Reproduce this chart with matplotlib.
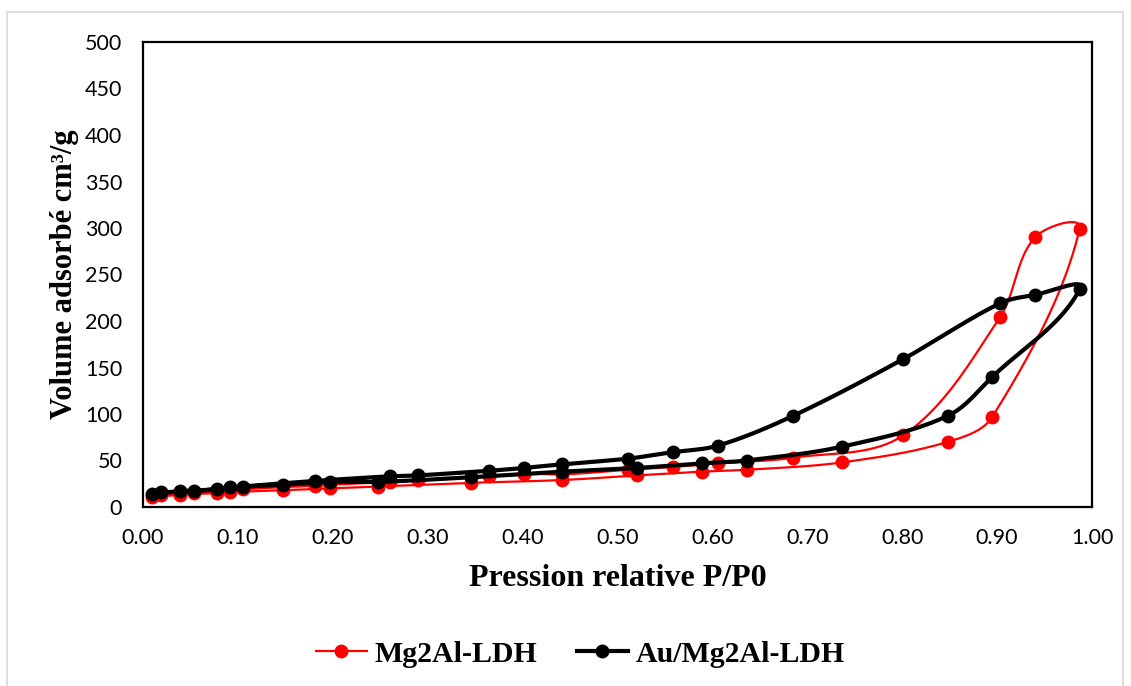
import numpy as np
import matplotlib
matplotlib.use("Agg")
import matplotlib.pyplot as plt
from matplotlib.patches import Rectangle
from matplotlib.lines import Line2D

# ---- data (P/P0, volume adsorbed cm3/g) ----
ads_x = [0.009, 0.039, 0.078, 0.092, 0.147, 0.197, 0.248, 0.346, 0.442, 0.521, 0.589, 0.636, 0.737, 0.848, 0.895, 0.987]
des_x = [0.940, 0.903, 0.801, 0.685, 0.606, 0.558, 0.511, 0.442, 0.402, 0.365, 0.290, 0.260, 0.181, 0.105, 0.054, 0.019]

mg_ads = [11, 13, 15, 16, 18, 20, 22, 26, 29, 34, 38, 40, 48, 70, 97, 299]
mg_des = [290, 204, 77, 53, 47, 43, 40, 35, 36, 33, 29, 27, 23, 19, 15, 13]

au_ads = [14, 17, 19, 21, 24, 27, 27, 32, 38, 42, 47, 50, 65, 98, 140, 234]
au_des = [228, 219, 159, 98, 66, 59, 52, 46, 42, 39, 34, 33, 28, 22, 17, 16]

labels = ["Mg2Al-LDH", "Au/Mg2Al-LDH"]
colors = ["#ff0000", "#000000"]

x_ticks = [0.0, 0.1, 0.2, 0.3, 0.4, 0.5, 0.6, 0.7, 0.8, 0.9, 1.0]
y_ticks = [0, 50, 100, 150, 200, 250, 300, 350, 400, 450, 500]

XMAX, YMAX = 1.0, 500.0
AX_W_PX, AX_H_PX = 949.0, 465.0


def smooth(xs, ys, n=40):
    """Excel-like smoothed line: cubic Bezier, tangent direction from neighbours,
    handle length proportional to the segment length (computed in pixel space)."""
    sx, sy = AX_W_PX / XMAX, AX_H_PX / YMAX
    P = np.column_stack([np.asarray(xs) * sx, np.asarray(ys) * sy]).astype(float)
    m = len(P)
    tang = []
    for i in range(m):
        a = P[i - 1] if i > 0 else P[i]
        b = P[i + 1] if i < m - 1 else P[i]
        d = b - a
        nrm = np.hypot(*d)
        tang.append(d / nrm if nrm > 0 else d)
    out = [P[0]]
    t = np.linspace(0, 1, n)[1:, None]
    for i in range(m - 1):
        p1, p2 = P[i], P[i + 1]
        L = np.hypot(*(p2 - p1))
        c1 = p1 + tang[i] * L / 3.0
        c2 = p2 - tang[i + 1] * L / 3.0
        seg = ((1 - t) ** 3) * p1 + 3 * ((1 - t) ** 2) * t * c1 + 3 * (1 - t) * t ** 2 * c2 + t ** 3 * p2
        out.extend(seg)
    out = np.array(out)
    return out[:, 0] / sx, out[:, 1] / sy


fig = plt.figure(figsize=(11.31, 6.86), dpi=100)
fig.patches.append(Rectangle((7 / 1131, -0.01), 1116 / 1131, 1 - 12 / 686 + 0.01,
                             transform=fig.transFigure, fill=False,
                             edgecolor="#d9d9d9", linewidth=1.2))

ax = fig.add_axes([143 / 1131, 1 - 507 / 686, (1092 - 143) / 1131, (507 - 42) / 686])

series = [(mg_ads, mg_des, 1.6, 9.0, 2), (au_ads, au_des, 3.0, 9.0, 3)]
for (ya, yd, lw, ms, z), lab, c in zip(series, labels, colors):
    xs = ads_x + des_x
    ys = ya + yd
    sx, sy = smooth(xs, ys)
    ax.plot(sx, sy, color=c, lw=lw, zorder=z, solid_capstyle="round")
    ax.plot(xs, ys, linestyle="none", marker="o", ms=ms, color=c, zorder=z + 0.5)

ax.set_xlim(0, XMAX)
ax.set_ylim(0, YMAX)
ax.set_xticks(x_ticks)
ax.set_xticklabels([f"{v:.2f}" for v in x_ticks])
ax.set_yticks(y_ticks)
ax.set_yticklabels([str(v) for v in y_ticks])
ax.tick_params(length=0, labelsize=15.5)
ax.tick_params(axis="y", pad=15)
ax.tick_params(axis="x", pad=15)
for lab in ax.get_xticklabels() + ax.get_yticklabels():
    lab.set_fontfamily("Lato")
for s in ax.spines.values():
    s.set_linewidth(1.6)
    s.set_color("black")

serif = "Liberation Serif"
ax.set_xlabel("Pression relative P/P0", fontfamily=serif, fontweight="bold", fontsize=23, labelpad=12)
ax.set_ylabel("Volume adsorbé cm³/g", fontfamily=serif, fontweight="bold", fontsize=22, labelpad=4)

handles = [Line2D([], [], color=c, lw=lw, marker="o", ms=9)
           for c, lw in zip(colors, [1.6, 3.0])]
fig.legend(handles, labels, loc="center", bbox_to_anchor=(0.513, 1 - 654 / 686), ncol=2,
           frameon=False, prop={"family": serif, "weight": "bold", "size": 21.5},
           handlelength=1.7, handletextpad=0.25, columnspacing=1.35)

fig.savefig("out.png", dpi=100)
